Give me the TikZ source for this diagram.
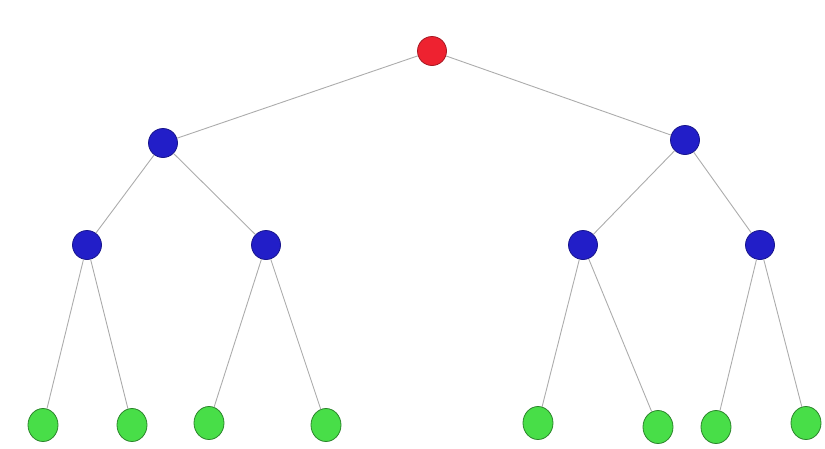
\documentclass[tikz,border=0pt]{standalone}
\usepackage{tikz}
\usetikzlibrary{shapes.geometric}

\definecolor{rootred}{RGB}{238,34,48}
\definecolor{innerblue}{RGB}{34,30,200}
\definecolor{leafgreen}{RGB}{72,222,72}

\begin{document}
\begin{tikzpicture}[
    x=1pt, y=-1pt,
    root/.style = {circle, draw=rootred!70!black, fill=rootred, line width=0.8pt, minimum width=29pt, minimum height=29pt, inner sep=0pt},
    inner/.style = {circle, draw=innerblue!70!black, fill=innerblue, line width=0.8pt, minimum width=29pt, minimum height=29pt, inner sep=0pt},
    leaf/.style = {ellipse, draw=leafgreen!60!black, fill=leafgreen, line width=0.8pt, minimum width=30pt, minimum height=33pt, inner sep=0pt},
    edge/.style = {draw=gray!65, line width=0.9pt}]

    \useasboundingbox (0,0) rectangle (825,448);

    \node[root] (R) at (432,51) {};

    \node[inner] (L) at (163,143) {};
    \node[inner] (Rt) at (685,140) {};

    \node[inner] (LL) at (87,245) {};
    \node[inner] (LR) at (266,245) {};
    \node[inner] (RL) at (583,245) {};
    \node[inner] (RR) at (760,245) {};

    \node[leaf] (LLa) at (43,425) {};
    \node[leaf] (LLb) at (132,425) {};
    \node[leaf] (LRa) at (209,423) {};
    \node[leaf] (LRb) at (326,425) {};
    \node[leaf] (RLa) at (538,423) {};
    \node[leaf] (RLb) at (658,427) {};
    \node[leaf] (RRa) at (716,427) {};
    \node[leaf] (RRb) at (806,423) {};

    \draw[edge] (R) -- (L);
    \draw[edge] (R) -- (Rt);
    \draw[edge] (L) -- (LL);
    \draw[edge] (L) -- (LR);
    \draw[edge] (Rt) -- (RL);
    \draw[edge] (Rt) -- (RR);
    \draw[edge] (LL) -- (LLa);
    \draw[edge] (LL) -- (LLb);
    \draw[edge] (LR) -- (LRa);
    \draw[edge] (LR) -- (LRb);
    \draw[edge] (RL) -- (RLa);
    \draw[edge] (RL) -- (RLb);
    \draw[edge] (RR) -- (RRa);
    \draw[edge] (RR) -- (RRb);

\end{tikzpicture}
\end{document}
